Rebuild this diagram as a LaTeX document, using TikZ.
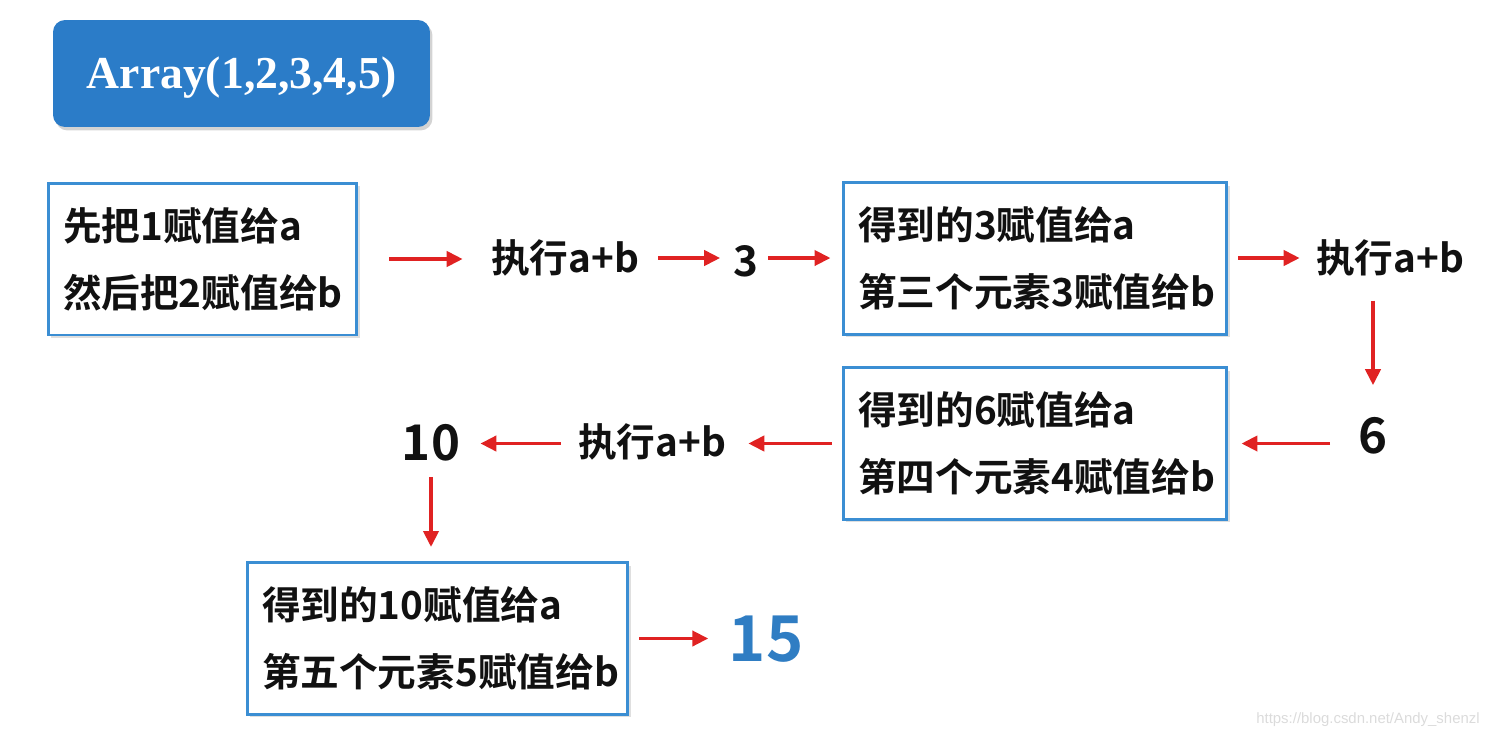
\documentclass[tikz,border=0pt]{standalone}
\usepackage{fontspec}
\usetikzlibrary{arrows.meta,shadows}
\newfontfamily\cjk{Noto Sans CJK SC}[BoldFont={Noto Sans CJK SC Bold}]
\newfontfamily\titlefont{Liberation Serif}
\newfontfamily\markfont{Liberation Sans}
\definecolor{titleblue}{HTML}{2B7CC8}
\definecolor{boxblue}{HTML}{3B8ED3}
\definecolor{arrred}{HTML}{E02222}
\definecolor{resblue}{HTML}{2F7DC3}
\definecolor{ink}{HTML}{111111}
\tikzset{
    title/.style={fill=titleblue, rounded corners=.24cm, text=white,
        minimum width=7.54cm, minimum height=2.14cm, text height=19pt, text depth=2pt,
        font=\titlefont\bfseries\fontsize{26}{30}\selectfont,
        drop shadow={opacity=.35, shadow xshift=.05cm, shadow yshift=-.07cm}},
    box/.style={draw=boxblue, line width=1.7pt, fill=white, align=left,
        inner xsep=.3cm, minimum height=3.04cm, text=ink,
        font=\cjk\bfseries\fontsize{22}{38}\selectfont,
        drop shadow={opacity=.25, shadow xshift=.06cm, shadow yshift=-.06cm}},
    op/.style={inner sep=0pt, text=ink, font=\cjk\bfseries\fontsize{22}{26}\selectfont},
    num/.style={inner sep=0pt, text=ink, font=\cjk\bfseries\fontsize{#1}{#1}\selectfont},
    arr/.style={draw=arrred, line width=2.2pt, -{Triangle[length=.32cm, width=.3cm]}}
}

\begin{document}
\begin{tikzpicture}[x=0.02cm, y=-0.02cm]
  \useasboundingbox (0,0) rectangle (1488,738);

  \node (title) [title] at (241.5,73.5) {Array(1,2,3,4,5)};

  \node (b1) [box, minimum width=6.18cm, text width=5.58cm] at (202.5,259) {先把1赋值给a\\然后把2赋值给b};
  \node (b2) [box, minimum width=7.68cm, text width=7.08cm] at (1035,258.5) {得到的3赋值给a\\第三个元素3赋值给b};
  \node (b3) [box, minimum width=7.68cm, text width=7.08cm] at (1035,443.5) {得到的6赋值给a\\第四个元素4赋值给b};
  \node (b4) [box, minimum width=7.62cm, text width=7.02cm] at (437.5,638.5) {得到的10赋值给a\\第五个元素5赋值给b};

  \node (exec1) [op] at (565,258) {执行a+b};
  \node (exec2) [op] at (1390,258) {执行a+b};
  \node (exec3) [op] at (652,442) {执行a+b};

  \node (n3) [num=24] at (746,261) {3};
  \node (n6) [num=28] at (1373,436) {6};
  \node (n10) [num=28] at (431,443) {10};
  \node (n15) [num=36, text=resblue] at (766,639) {15};

  \node (mark) [anchor=east, inner sep=0pt, text=black!14,
    font=\markfont\fontsize{8.5}{10}\selectfont] at (1480,720) {https://blog.csdn.net/Andy\_shenzl};

  \draw (b1.east) edge [arr, shorten <=.62cm, shorten >=.56cm] (exec1.west |- b1.east);
  \draw (exec1.east) edge [arr, shorten <=.38cm, shorten >=.26cm] (n3.west |- exec1.east);
  \draw (n3.west |- exec1.east) ++(22,0) coordinate (n3e) edge [arr, shorten <=.26cm, shorten >=.22cm] (b2.west |- n3e);
  \draw (b2.east |- exec2.west) edge [arr, shorten <=.2cm, shorten >=.32cm] (exec2.west);

  \draw (n6.north |- exec2.south) edge [arr, shorten <=.48cm, shorten >=.64cm] (n6.north);

  \draw (n6.west |- b3.east) edge [arr, shorten <=.56cm, shorten >=.26cm] (b3.east);
  \draw (b3.west) edge [arr, shorten <=.2cm, shorten >=.44cm] (exec3.east |- b3.west);
  \draw (exec3.west |- b3.west) edge [arr, shorten <=.34cm, shorten >=.4cm] (n10.east |- b3.west);

  \draw (n10.south) edge [arr, shorten <=.3cm, shorten >=.28cm] (b4.north -| n10.south);
  \draw (b4.east) edge [arr, shorten <=.2cm, shorten >=.4cm] (n15.west |- b4.east);
\end{tikzpicture}
\end{document}
